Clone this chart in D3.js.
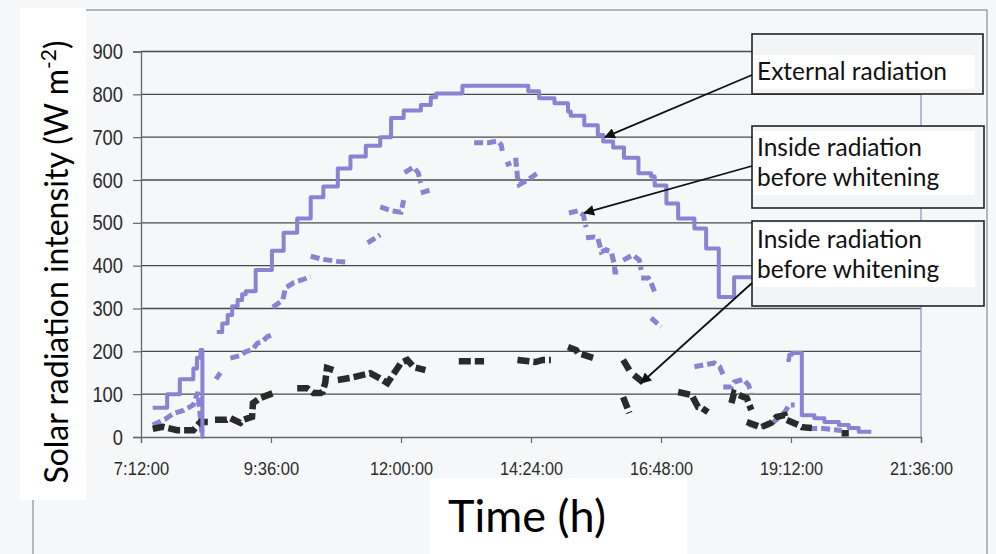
<!DOCTYPE html>
<html>
<head>
<meta charset="utf-8">
<script src="https://cdn.jsdelivr.net/npm/d3@7"></script>
<style>
  body { margin: 0; background: #f6f7f9; }
  svg { display: block; }
</style>
</head>
<body>
<div id="chart"></div>
<script>
// time ticks (hours) and their labels
const xTicks = [7.2, 9.6, 12, 14.4, 16.8, 19.2, 21.6];
const xTickLabels = ["7:12:00", "9:36:00", "12:00:00", "14:24:00", "16:48:00", "19:12:00", "21:36:00"];
const yTicks = [0, 100, 200, 300, 400, 500, 600, 700, 800, 900];

// external radiation, value at the start of each step (null = no data)
const external = [
  ["7:25", 68], ["7:41", 100], ["7:55", 135], ["8:10", 160], ["8:14", 185], ["8:18", 203],
  ["8:20", 0], ["8:21", 0], null,
  ["8:36", 245], ["8:42", 265], ["8:48", 285], ["8:53", 305], ["8:59", 320], ["9:04", 333],
  ["9:08", 340], ["9:19", 390], ["9:37", 435], ["9:50", 477], ["10:05", 510], ["10:20", 560],
  ["10:34", 585], ["10:50", 627], ["11:04", 655], ["11:21", 680], ["11:37", 700], ["11:49", 745],
  ["12:03", 762], ["12:22", 775], ["12:33", 793], ["12:39", 802], ["13:08", 820], ["14:21", 807],
  ["14:33", 791], ["14:50", 779], ["15:05", 760], ["15:08", 750], ["15:23", 728], ["15:38", 705],
  ["15:44", 690], ["15:55", 676], ["16:07", 652], ["16:23", 616], ["16:37", 608], ["16:41", 587],
  ["16:54", 545], ["17:07", 510], ["17:25", 487], ["17:38", 440], ["17:52", 327], ["18:09", 373],
  ["18:39", 373], null,
  ["19:07", 180], ["19:10", 192], ["19:13", 196], ["19:24", 51], ["19:38", 44], ["19:49", 35],
  ["20:05", 28], ["20:16", 21], ["20:27", 12], ["20:41", 12]
];

// inside radiation before whitening (upper, purple dashes)
const insideBefore = [
  ["7:25", 28], ["7:39", 42], ["7:48", 55], ["7:59", 62], ["8:10", 75], ["8:15", 105], ["8:20", 0], null,
  ["8:35", 135], ["8:40", 150], null,
  ["8:51", 184], ["9:02", 190], ["9:08", 199], ["9:16", 205], ["9:21", 219], ["9:26", 222],
  ["9:32", 234], ["9:37", 238], null,
  ["9:38", 303], ["9:49", 320], ["9:52", 348], ["10:01", 360], ["10:20", 374], null,
  ["10:20", 422], ["10:33", 415], ["10:50", 410], ["11:01", 408], null,
  ["11:23", 453], ["11:37", 472], null,
  ["11:37", 537], ["11:50", 528], ["12:00", 525], ["12:03", 553], null,
  ["12:04", 617], ["12:14", 630], ["12:19", 617], ["12:22", 593], null,
  ["12:22", 570], ["12:33", 577], null,
  ["13:21", 687], ["13:32", 687], ["13:37", 687], ["13:47", 691], ["13:51", 682], ["13:53", 659], null,
  ["13:56", 635], ["14:02", 640], null,
  ["14:07", 652], ["14:09", 607], ["14:11", 589], ["14:20", 600], ["14:32", 617], null,
  ["15:06", 523], ["15:16", 528], ["15:22", 518], ["15:25", 490], null,
  ["15:25", 465], ["15:34", 467], ["15:38", 465], ["15:42", 432], ["15:47", 437], ["15:53", 432],
  ["15:56", 406], ["15:57", 385], ["16:04", 385], null,
  ["16:06", 413], ["16:17", 425], ["16:24", 413], ["16:26", 390], null,
  ["16:26", 371], ["16:34", 371], ["16:37", 360], ["16:41", 339], null,
  ["16:37", 278], ["16:48", 257], null,
  ["17:25", 164], ["17:40", 170], ["17:47", 173], ["17:53", 164], ["17:58", 140], null,
  ["17:57", 117], ["18:06", 117], ["18:09", 128], ["18:19", 135], ["18:25", 121], ["18:28", 103], null,
  ["18:25", 30], ["18:36", 22], ["18:50", 30], ["19:05", 58], ["19:10", 75], ["19:16", 75], null,
  ["19:31", 20], ["19:48", 20], ["20:08", 15]
];

// inside radiation (lower, dark dashes)
const insideAfter = [
  ["7:25", 19], ["7:36", 24], ["7:52", 16], ["8:06", 16], ["8:10", 16], ["8:15", 28], ["8:18", 35], ["8:26", 35], null,
  ["8:34", 40], ["8:47", 40], ["8:51", 44], ["9:02", 33], ["9:05", 40], ["9:15", 47], ["9:16", 79],
  ["9:24", 91], ["9:39", 103], null,
  ["10:05", 114], ["10:16", 114], ["10:23", 103], ["10:31", 103], ["10:33", 105], ["10:36", 126],
  ["10:38", 161], ["10:45", 156], null,
  ["10:50", 133], ["11:04", 138], ["11:26", 149], ["11:34", 140], ["11:45", 126], ["12:00", 173],
  ["12:07", 180], ["12:14", 163], ["12:27", 156], null,
  ["13:04", 177], ["13:32", 177], null,
  ["14:09", 180], ["14:29", 175], ["14:37", 180], ["14:46", 180], null,
  ["15:05", 210], ["15:14", 203], ["15:16", 196], ["15:34", 184], null,
  ["16:06", 180], ["16:13", 156], null,
  ["16:06", 93], ["16:13", 56], null,
  ["16:18", 145], ["16:29", 126], null,
  ["17:07", 105], ["17:22", 98], ["17:29", 70], ["17:33", 68], ["17:40", 58], null,
  ["18:06", 79], ["18:09", 103], ["18:20", 93], ["18:23", 91], ["18:28", 63], null,
  ["18:23", 35], ["18:39", 23], ["18:50", 33], ["18:56", 47], ["19:05", 51], ["19:07", 40],
  ["19:20", 28], ["19:24", 23], ["19:35", 21], null,
  ["20:08", 9], ["20:16", 9]
];

// callouts: box text lines and the point the arrow points to
const notes = [
  { lines: ["External radiation"], at: ["15:46", 700] },
  { lines: ["Inside radiation", "before whitening"], at: ["15:23", 523] },
  { lines: ["Inside radiation", "before whitening"], at: ["16:26", 126] }
];

const W = 996, H = 554;
const purple = "#8a82d2", dark = "#2a2a2a";

const hrs = s => { const [h, m] = s.split(":"); return +h + m / 60; };

const x = d3.scaleLinear().domain([7.2, 21.6]).range([141, 921]);
const y = d3.scaleLinear().domain([0, 900]).range([437, 51.5]);

const svg = d3.select("#chart").append("svg")
  .attr("width", W)
  .attr("height", H);

// scanned page frame
svg.append("rect")
  .attr("x", 33).attr("y", 10).attr("width", 954).attr("height", 560)
  .attr("fill", "none").attr("stroke", "#8c8c8c").attr("stroke-width", 1.2);

// gridlines
svg.append("g")
  .selectAll("line")
  .data(yTicks.filter(d => d > 0))
  .enter().append("line")
  .attr("x1", x(7.2)).attr("x2", x(21.6))
  .attr("y1", d => y(d)).attr("y2", d => y(d))
  .attr("stroke", "#4a4a4a").attr("stroke-width", 1.3);

// right border of plot
svg.append("line")
  .attr("x1", x(21.6)).attr("x2", x(21.6))
  .attr("y1", y(900)).attr("y2", y(0))
  .attr("stroke", "#9a94d8").attr("stroke-width", 1.3);

let yAxis = svg.append("g")
  .attr("transform", `translate(${x(7.2)},0)`)
  .call(d3.axisLeft(y).tickValues(yTicks).tickSize(8).tickPadding(10));

let xAxis = svg.append("g")
  .attr("transform", `translate(0,${y(0)})`)
  .call(d3.axisBottom(x).tickValues(xTicks).tickSize(6).tickPadding(19)
    .tickFormat((d, i) => xTickLabels[i]));

[yAxis, xAxis].forEach(a => {
  a.select(".domain").attr("stroke", "#666").attr("stroke-width", 1.3);
  a.selectAll(".tick line").attr("stroke", "#666").attr("stroke-width", 1.2);
  a.selectAll("text")
    .attr("fill", "#2b2b2b")
    .style("font-family", "'Liberation Sans', Arial, sans-serif");
});
// the scanned labels are a narrow face: squeeze the glyphs
yAxis.selectAll("text")
  .style("font-size", "22px")
  .attr("textLength", d => String(d).length * 10.2)
  .attr("lengthAdjust", "spacingAndGlyphs");
xAxis.selectAll("text")
  .style("font-size", "18.5px")
  .attr("textLength", (d, i) => xTickLabels[i].length * 7.9)
  .attr("lengthAdjust", "spacingAndGlyphs");

const pt = d => d === null ? null : [hrs(d[0]), d[1]];

const line = d3.line()
  .defined(d => d !== null)
  .x(d => x(d[0]))
  .y(d => y(d[1]));

svg.append("path")
  .datum(insideBefore.map(pt))
  .attr("d", line.curve(d3.curveLinear))
  .attr("fill", "none")
  .attr("stroke", purple)
  .attr("stroke-width", 5)
  .attr("stroke-dasharray", "9,4");

svg.append("path")
  .datum(insideAfter.map(pt))
  .attr("d", line.curve(d3.curveLinear))
  .attr("fill", "none")
  .attr("stroke", dark)
  .attr("stroke-width", 6.5)
  .attr("stroke-dasharray", "12,4");

svg.append("path")
  .datum(external.map(pt))
  .attr("d", line.curve(d3.curveStepAfter))
  .attr("fill", "none")
  .attr("stroke", purple)
  .attr("stroke-width", 4)
  .attr("stroke-linejoin", "round");

// callout boxes
const boxes = [
  { x: 752, y: 34, w: 231, h: 60, ty: 80, from: 75 },
  { x: 752, y: 126, w: 232, h: 82, ty: 156, from: 166 },
  { x: 752, y: 221, w: 232, h: 85, ty: 248, from: 283 }
];

svg.append("defs").append("marker")
  .attr("id", "head")
  .attr("viewBox", "0 0 10 10")
  .attr("refX", 9).attr("refY", 5)
  .attr("markerWidth", 7).attr("markerHeight", 6)
  .attr("orient", "auto")
  .append("path")
  .attr("d", "M0,0L10,5L0,10z")
  .attr("fill", "#111");

notes.forEach((n, i) => {
  let b = boxes[i];
  let g = svg.append("g");
  g.append("rect")
    .attr("x", b.x).attr("y", b.y).attr("width", b.w).attr("height", b.h)
    .attr("fill", "#f3f4f6").attr("stroke", "#222").attr("stroke-width", 1.6);
  g.append("rect")
    .attr("x", b.x + 1).attr("y", b.ty - 25)
    .attr("width", 222).attr("height", n.lines.length * 30 + 4)
    .attr("fill", "#fff");
  g.selectAll("text")
    .data(n.lines)
    .enter().append("text")
    .attr("x", b.x + 5)
    .attr("y", (d, j) => b.ty + j * 30)
    .attr("fill", "#111")
    .style("font-family", "Lato, 'Open Sans', sans-serif")
    .style("font-size", "24.5px")
    .text(d => d);

  let tx = x(hrs(n.at[0])), ty = y(n.at[1]);
  svg.append("line")
    .attr("x1", b.x).attr("y1", b.from)
    .attr("x2", tx).attr("y2", ty)
    .attr("stroke", "#111").attr("stroke-width", 1.8)
    .attr("marker-end", "url(#head)");
});

// axis titles on white patches
svg.append("rect").attr("x", 20).attr("y", 8).attr("width", 66).attr("height", 492).attr("fill", "#fff");
svg.append("rect").attr("x", 430).attr("y", 478).attr("width", 257).attr("height", 76).attr("fill", "#fff");

let yt = svg.append("text")
  .attr("transform", "translate(68,262) rotate(-90)")
  .attr("text-anchor", "middle")
  .attr("fill", "#000")
  .style("font-family", "Lato, 'Open Sans', sans-serif")
  .style("font-size", "32px");
yt.append("tspan").text("Solar radiation intensity (W m");
yt.append("tspan").attr("baseline-shift", "super").style("font-size", "21px").text("-2");
yt.append("tspan").text(")");

svg.append("text")
  .attr("x", 527).attr("y", 532)
  .attr("text-anchor", "middle")
  .attr("fill", "#000")
  .style("font-family", "Lato, 'Open Sans', sans-serif")
  .style("font-size", "45px")
  .text("Time (h)");
</script>
</body>
</html>
